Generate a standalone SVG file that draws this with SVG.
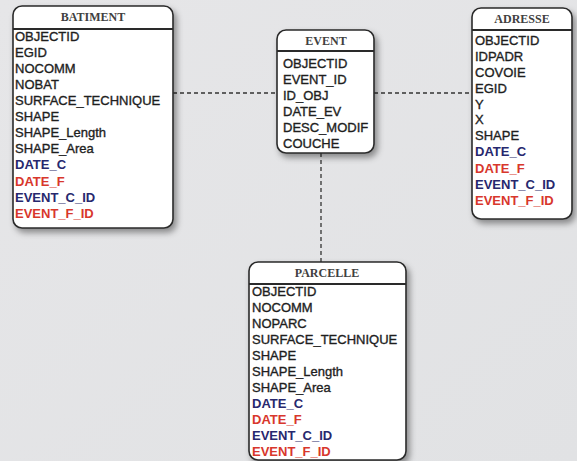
<svg xmlns="http://www.w3.org/2000/svg" width="577" height="461" viewBox="0 0 577 461">
<defs>
<linearGradient id="bg" x1="0" y1="0" x2="1" y2="1">
<stop offset="0" stop-color="#e6e6e8"/>
<stop offset="1" stop-color="#e1e2e4"/>
</linearGradient>
<filter id="sh" x="-10%" y="-10%" width="130%" height="130%">
<feDropShadow dx="3" dy="4" stdDeviation="3" flood-color="#000" flood-opacity="0.4"/>
</filter>
</defs>
<style>
.box{fill:#fff;stroke:#2a2a2a;stroke-width:1.6;filter:url(#sh)}
.hdr{stroke:#2a2a2a;stroke-width:2}
.ttl{font-family:"Liberation Serif","Times New Roman",serif;font-size:12px;font-weight:bold;fill:#404040;text-anchor:middle}
.f{font-family:"Liberation Sans",Arial,sans-serif;font-size:13px;fill:#1e1e1e;stroke:#1e1e1e;stroke-width:0.35}
.b{font-weight:bold;fill:#27286e;stroke:none}
.r{font-weight:bold;fill:#d8372c;stroke:none}
.con{stroke:#333;stroke-width:1.3;stroke-dasharray:4 3;fill:none}
</style>
<rect width="577" height="461" fill="url(#bg)"/>
<g id="connectors">
<line class="con" x1="173" y1="93" x2="277" y2="93"/>
<line class="con" x1="374" y1="93" x2="472" y2="93"/>
<line class="con" x1="321" y1="153" x2="321" y2="262"/>
</g>
<g id="batiment">
<rect class="box" x="13" y="6" width="160" height="222" rx="9"/>
<line class="hdr" x1="13" y1="29" x2="173" y2="29"/>
<text class="ttl" x="93" y="21">BATIMENT</text>
<text class="f" x="15" y="41">OBJECTID</text>
<text class="f" x="15" y="57">EGID</text>
<text class="f" x="15" y="73">NOCOMM</text>
<text class="f" x="15" y="89">NOBAT</text>
<text class="f" x="15" y="105">SURFACE_TECHNIQUE</text>
<text class="f" x="15" y="121">SHAPE</text>
<text class="f" x="15" y="137">SHAPE_Length</text>
<text class="f" x="15" y="153">SHAPE_Area</text>
<text class="f b" x="15" y="169">DATE_C</text>
<text class="f r" x="15" y="186">DATE_F</text>
<text class="f b" x="15" y="202">EVENT_C_ID</text>
<text class="f r" x="15" y="218">EVENT_F_ID</text>
</g>
<g id="event">
<rect class="box" x="277" y="30" width="97" height="123" rx="9"/>
<line class="hdr" x1="277" y1="51" x2="374" y2="51"/>
<text class="ttl" x="326" y="45">EVENT</text>
<text class="f" x="283" y="68">OBJECTID</text>
<text class="f" x="283" y="84">EVENT_ID</text>
<text class="f" x="283" y="100">ID_OBJ</text>
<text class="f" x="283" y="116">DATE_EV</text>
<text class="f" x="283" y="132">DESC_MODIF</text>
<text class="f" x="283" y="148">COUCHE</text>
</g>
<g id="adresse">
<rect class="box" x="472" y="8" width="100" height="211" rx="9"/>
<line class="hdr" x1="472" y1="30" x2="572" y2="30"/>
<text class="ttl" x="522" y="23">ADRESSE</text>
<text class="f" x="475" y="45">OBJECTID</text>
<text class="f" x="475" y="61">IDPADR</text>
<text class="f" x="475" y="77">COVOIE</text>
<text class="f" x="475" y="93">EGID</text>
<text class="f" x="475" y="109">Y</text>
<text class="f" x="475" y="124">X</text>
<text class="f" x="475" y="140">SHAPE</text>
<text class="f b" x="475" y="156">DATE_C</text>
<text class="f r" x="475" y="173">DATE_F</text>
<text class="f b" x="475" y="189">EVENT_C_ID</text>
<text class="f r" x="475" y="205">EVENT_F_ID</text>
</g>
<g id="parcelle">
<rect class="box" x="249" y="262" width="157" height="198" rx="9"/>
<line class="hdr" x1="249" y1="284" x2="406" y2="284"/>
<text class="ttl" x="327" y="277">PARCELLE</text>
<text class="f" x="252" y="296">OBJECTID</text>
<text class="f" x="252" y="312">NOCOMM</text>
<text class="f" x="252" y="328">NOPARC</text>
<text class="f" x="252" y="344">SURFACE_TECHNIQUE</text>
<text class="f" x="252" y="360">SHAPE</text>
<text class="f" x="252" y="376">SHAPE_Length</text>
<text class="f" x="252" y="392">SHAPE_Area</text>
<text class="f b" x="252" y="408">DATE_C</text>
<text class="f r" x="252" y="424">DATE_F</text>
<text class="f b" x="252" y="440">EVENT_C_ID</text>
<text class="f r" x="252" y="456">EVENT_F_ID</text>
</g>
</svg>
